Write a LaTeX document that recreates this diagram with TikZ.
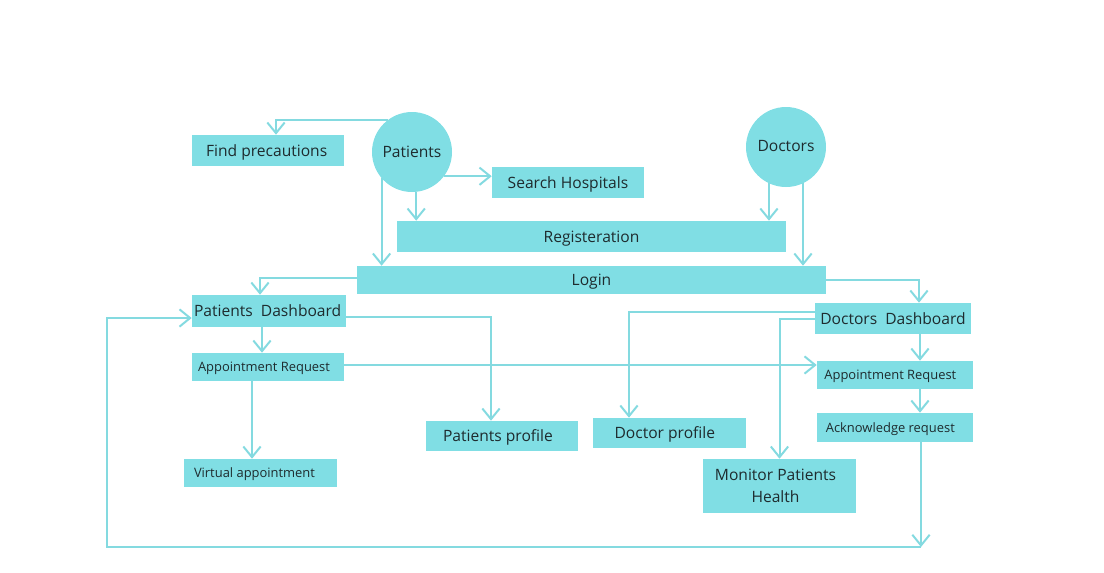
\documentclass[tikz,border=0pt]{standalone}
\usepackage{fontspec}
\setmainfont{Open Sans}
\usetikzlibrary{arrows.meta,calc}
\definecolor{boxc}{HTML}{80DEE4}
\definecolor{linec}{HTML}{84DAE0}
\definecolor{txt}{HTML}{1E2B2E}
\begin{document}
\begin{tikzpicture}[x=0.75pt,y=-0.75pt,
  basebox/.style={rectangle, fill=boxc, draw=none, inner sep=0pt, text=txt, align=center, font=\fontsize{11.7}{16.5}\selectfont},
  box/.style={basebox, text height=8.4pt, text depth=0pt},
  smallbox/.style={box, text height=7pt, font=\fontsize{9.7}{12}\selectfont},
  circ/.style={circle, fill=boxc, draw=none, inner sep=0pt, minimum size=60pt, text=txt, text height=8.4pt, text depth=0pt, font=\fontsize{11.7}{14}\selectfont},
  conn/.style={draw=linec, line width=1.5pt, -{Straight Barb[length=8pt,width=13pt]}}]
\useasboundingbox (0,0) rectangle (1104,572);

% nodes
\node[circ] (patients) at (412,152) {Patients};
\node[circ] (doctors) at (786,147) {\raisebox{1pt}{Doctors}};
\node[box, minimum width=114pt, minimum height=23.25pt] (find) at (268,150.5) {\hspace*{-2pt}Find precautions};
\node[box, minimum width=114pt, minimum height=23.25pt] (search) at (568,182.5) {Search Hospitals};
\node[box, minimum width=291.75pt, minimum height=23.25pt] (reg) at (591.5,236.5) {Registeration};
\node[box, minimum width=351.75pt, minimum height=21pt] (login) at (591.5,280) {Login};
\node[box, minimum width=115.5pt, minimum height=24pt] (pdash) at (269,311) {\hspace*{-2pt}Patients\ \ Dashboard};
\node[smallbox, minimum width=114pt, minimum height=21pt] (preq) at (268,367) {\hspace*{-6pt}Appointment Request};
\node[smallbox, minimum width=114.75pt, minimum height=21pt] (virt) at (260.5,473) {\hspace*{-9pt}Virtual appointment};
\node[box, minimum width=114pt, minimum height=22.5pt] (pprof) at (502,436) {\hspace*{-6pt}Patients profile};
\node[box, minimum width=114.75pt, minimum height=22.5pt] (dprof) at (669.5,433) {\hspace*{-7pt}Doctor profile};
\node[basebox, minimum width=114.75pt, minimum height=40.5pt] (mon) at (779.5,486) {\hspace*{-6pt}Monitor Patients\\\hspace*{-6pt}Health};
\node[box, minimum width=117pt, minimum height=23.25pt] (ddash) at (893,318.5) {Doctors\ \ Dashboard};
\node[smallbox, minimum width=117pt, minimum height=21pt] (dreq) at (895,375) {\hspace*{-7pt}Appointment Request};
\node[smallbox, minimum width=117pt, minimum height=21.75pt] (ack) at (895,427.5) {\hspace*{-7pt}Acknowledge request};
\coordinate (loopc) at (921,547);
\coordinate (loopl) at (107,547);

% connectors
\draw[conn] (patients.127) -| ([xshift=6pt]find.north);
\draw[conn] (patients.-37) -- (patients.-37 -| search.west);
\draw[conn] (patients.-84) -- (patients.-84 |- reg.north);
\draw[conn] (patients.-139) -- (patients.-139 |- login.north);
\draw[conn] (doctors.-115) -- (doctors.-115 |- reg.north);
\draw[conn] (doctors.-65) -- (doctors.-65 |- login.north);
\draw[conn] ([yshift=1.5pt]login.west) -| ([xshift=-6.75pt]pdash.north);
\draw[conn] (login.east) -| ([xshift=19.5pt]ddash.north);
\draw[conn] ([xshift=-5.25pt]pdash.south) -- ([xshift=-5.25pt]pdash.south |- preq.north);
\draw[conn] ([yshift=-4.5pt]pdash.east) -| ([xshift=-8.25pt]pprof.north);
\draw[conn] ([xshift=-12pt]preq.south) -- ([xshift=-12pt]preq.south |- virt.north);
\draw[conn] ([yshift=1.5pt]preq.east) -- ([yshift=1.5pt]preq.east -| dreq.west);
\draw[conn] ([yshift=4.9pt]ddash.west) -| ([xshift=-30.4pt]dprof.north);
\draw[conn] (ddash.west) -| (mon.north);
\draw[conn] ([xshift=20.25pt]ddash.south) -- ([xshift=20.25pt]ddash.south |- dreq.north);
\draw[conn] ([xshift=18.75pt]dreq.south) -- ([xshift=18.75pt]dreq.south |- ack.north);
\draw[conn] ([xshift=19.5pt]ack.south) -- (loopc);
\draw[conn] (loopc) -- (loopl) |- ([yshift=-5.25pt]pdash.west);
\end{tikzpicture}
\end{document}
